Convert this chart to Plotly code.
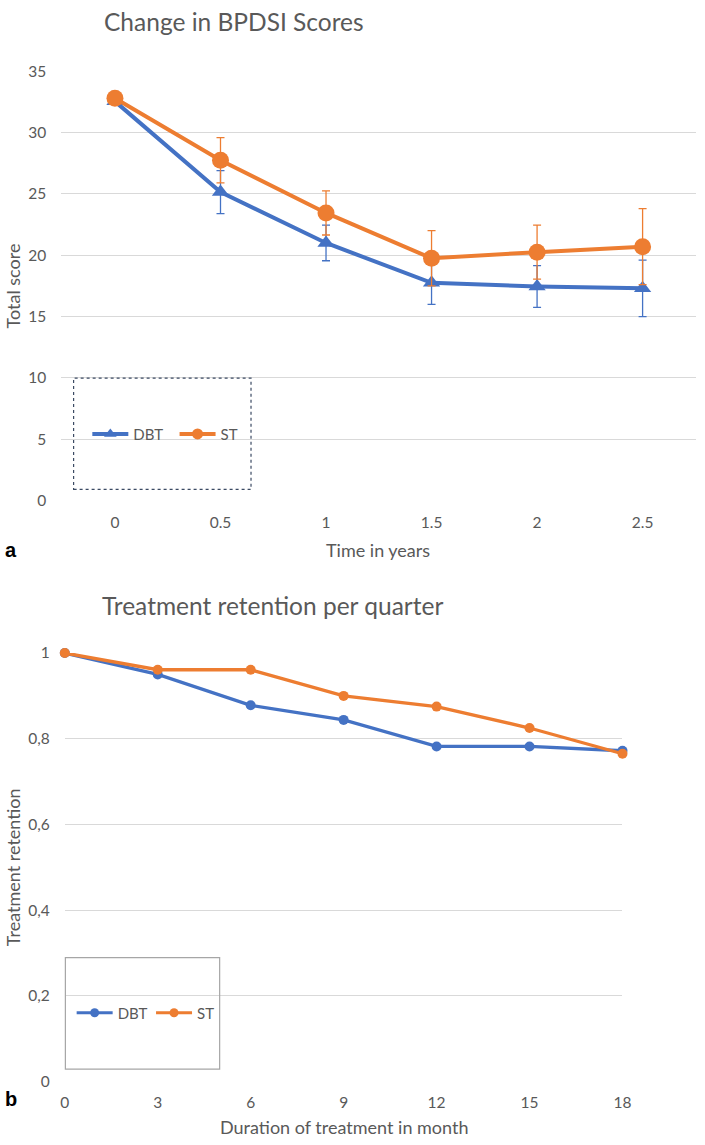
import plotly.graph_objects as go

# ---------------- data ----------------
years = [0, 0.5, 1, 1.5, 2, 2.5]
year_labels = ["0", "0.5", "1", "1.5", "2", "2.5"]
dbt_score = [32.55, 25.15, 21.0, 17.75, 17.45, 17.3]
dbt_err = [0, 1.75, 1.45, 1.75, 1.7, 2.3]
st_score = [32.8, 27.75, 23.45, 19.75, 20.25, 20.7]
st_err = [0, 1.85, 1.8, 2.25, 2.2, 3.1]
score_ticks = [0, 5, 10, 15, 20, 25, 30, 35]
score_labels = ["0", "5", "10", "15", "20", "25", "30", "35"]

months = [0, 3, 6, 9, 12, 15, 18]
month_labels = ["0", "3", "6", "9", "12", "15", "18"]
dbt_ret = [1.0, 0.95, 0.878, 0.844, 0.782, 0.782, 0.772]
st_ret = [1.0, 0.961, 0.961, 0.9, 0.875, 0.825, 0.765]
ret_ticks = [0, 0.2, 0.4, 0.6, 0.8, 1.0]
ret_labels = ["0", "0,2", "0,4", "0,6", "0,8", "1"]

series_names = ["DBT", "ST"]

# ---------------- style ----------------
W, H = 705, 1145
BLUE = "#4472C4"
ORANGE = "#ED7D31"
TXT = "#595959"
GRID = "#D9D9D9"
FONT = "Lato"


def px_x(p):
    return p / W


def px_y(p):
    return 1 - p / H


fig = go.Figure()

# ---- top chart ----
fig.add_trace(go.Scatter(
    x=years, y=dbt_score, name=series_names[0], mode="lines+markers",
    line=dict(color=BLUE, width=4),
    marker=dict(symbol="triangle-up", size=15, color=BLUE),
    error_y=dict(type="data", array=dbt_err, visible=True, color=BLUE, thickness=1.3, width=4),
    xaxis="x", yaxis="y", showlegend=False, cliponaxis=False))
fig.add_trace(go.Scatter(
    x=years, y=st_score, name=series_names[1], mode="lines+markers",
    line=dict(color=ORANGE, width=4),
    marker=dict(symbol="circle", size=17, color=ORANGE),
    error_y=dict(type="data", array=st_err, visible=True, color=ORANGE, thickness=1.3, width=4),
    xaxis="x", yaxis="y", showlegend=False, cliponaxis=False))

# legend-only entries (top)
fig.add_trace(go.Scatter(
    x=[None], y=[None], name=series_names[0], mode="lines+markers",
    line=dict(color=BLUE, width=4), marker=dict(symbol="triangle-up", size=11, color=BLUE),
    xaxis="x", yaxis="y", legend="legend"))
fig.add_trace(go.Scatter(
    x=[None], y=[None], name=series_names[1], mode="lines+markers",
    line=dict(color=ORANGE, width=4), marker=dict(symbol="circle", size=11, color=ORANGE),
    xaxis="x", yaxis="y", legend="legend2"))

# ---- bottom chart ----
fig.add_trace(go.Scatter(
    x=months, y=dbt_ret, name=series_names[0], mode="lines+markers",
    line=dict(color=BLUE, width=3.3), marker=dict(symbol="circle", size=10, color=BLUE),
    xaxis="x2", yaxis="y2", showlegend=False, cliponaxis=False))
fig.add_trace(go.Scatter(
    x=months, y=st_ret, name=series_names[1], mode="lines+markers",
    line=dict(color=ORANGE, width=3.3), marker=dict(symbol="circle", size=10, color=ORANGE),
    xaxis="x2", yaxis="y2", showlegend=False, cliponaxis=False))

fig.add_trace(go.Scatter(
    x=[None], y=[None], name=series_names[0], mode="lines+markers",
    line=dict(color=BLUE, width=3), marker=dict(symbol="circle", size=9, color=BLUE),
    xaxis="x2", yaxis="y2", legend="legend3"))
fig.add_trace(go.Scatter(
    x=[None], y=[None], name=series_names[1], mode="lines+markers",
    line=dict(color=ORANGE, width=3), marker=dict(symbol="circle", size=9, color=ORANGE),
    xaxis="x2", yaxis="y2", legend="legend4"))

tickfont = dict(family=FONT, size=15.5, color=TXT)
legfont = dict(family=FONT, size=15, color=TXT)


def leg(xp, yp):
    return dict(x=px_x(xp), y=px_y(yp), xanchor="left", yanchor="middle",
                bgcolor="rgba(0,0,0,0)", borderwidth=0, font=legfont,
                orientation="h", itemwidth=36)


fig.update_layout(
    width=W, height=H,
    margin=dict(l=0, r=0, t=0, b=0),
    paper_bgcolor="white", plot_bgcolor="white",
    font=dict(family=FONT, color=TXT),
    xaxis=dict(domain=[px_x(57.5), 1.0], range=[-0.254, 2.753],
               tickvals=years, ticktext=year_labels, showgrid=False,
               zeroline=False, showline=False, ticks="", tickfont=tickfont,
               ticklabelstandoff=11, anchor="y"),
    yaxis=dict(domain=[px_y(498.3), px_y(62.3)], range=[0, 35],
               tickvals=score_ticks, ticktext=score_labels, showgrid=True,
               gridcolor=GRID, gridwidth=1.3, zeroline=False, showline=False,
               ticks="", tickfont=tickfont, ticklabelstandoff=14, anchor="x"),
    xaxis2=dict(domain=[px_x(61), px_x(630)], range=[0, 18],
                tickvals=months, ticktext=month_labels, showgrid=False,
                zeroline=False, showline=False, ticks="", tickfont=tickfont,
                ticklabelstandoff=10, anchor="y2"),
    yaxis2=dict(domain=[px_y(1088.7), px_y(653.3)], range=[0, 1],
                tickvals=ret_ticks, ticktext=ret_labels, showgrid=True,
                gridcolor=GRID, gridwidth=1, zeroline=False, showline=False,
                ticks="", tickfont=tickfont, ticklabelstandoff=14, anchor="x2"),
    legend=leg(84, 431),
    legend2=leg(173, 431),
    legend3=leg(68, 1019),
    legend4=leg(149, 1019),
    shapes=[
        dict(type="rect", xref="paper", yref="paper",
             x0=px_x(70), x1=px_x(251), y0=px_y(487), y1=px_y(374),
             line=dict(color="#3B4A63", width=1.2, dash="dot"), fillcolor="rgba(0,0,0,0)"),
        dict(type="rect", xref="paper", yref="paper",
             x0=px_x(61.6), x1=px_x(219), y0=px_y(1076), y1=px_y(962.7),
             line=dict(color="#A6A6A6", width=1.2), fillcolor="rgba(0,0,0,0)"),
    ],
    annotations=[
        dict(text="Change in BPDSI Scores", xref="paper", yref="paper",
             x=px_x(99), y=px_y(12), xanchor="left", yanchor="middle",
             showarrow=False, font=dict(family=FONT, size=24.5, color=TXT)),
        dict(text="Treatment retention per quarter", xref="paper", yref="paper",
             x=px_x(97), y=px_y(605), xanchor="left", yanchor="middle",
             showarrow=False, font=dict(family=FONT, size=24.5, color=TXT)),
        dict(text="Time in years", xref="paper", yref="paper",
             x=px_x(381), y=px_y(549), xanchor="center", yanchor="middle",
             showarrow=False, font=dict(family=FONT, size=18, color=TXT)),
        dict(text="Duration of treatment in month", xref="paper", yref="paper",
             x=px_x(345.5), y=0, xanchor="center", yanchor="bottom", yshift=-3,
             showarrow=False, font=dict(family=FONT, size=18, color=TXT)),
        dict(text="Total score", xref="paper", yref="paper", textangle=-90,
             x=px_x(8), y=px_y(280), xanchor="center", yanchor="middle",
             showarrow=False, font=dict(family=FONT, size=18, color=TXT)),
        dict(text="Treatment retention", xref="paper", yref="paper", textangle=-90,
             x=px_x(8), y=px_y(871), xanchor="center", yanchor="middle",
             showarrow=False, font=dict(family=FONT, size=18, color=TXT)),
        dict(text="<b>a</b>", xref="paper", yref="paper",
             x=0, y=px_y(549), xanchor="left", yanchor="middle", xshift=-2,
             showarrow=False, font=dict(family="Liberation Sans", size=20, color="black")),
        dict(text="<b>b</b>", xref="paper", yref="paper",
             x=0, y=px_y(1106), xanchor="left", yanchor="middle", xshift=-2,
             showarrow=False, font=dict(family="Liberation Sans", size=20, color="black")),
    ],
)

fig.write_html(
    "out.html",
    config={"displayModeBar": False},
    post_script="document.body.style.margin='0px';document.body.style.padding='0px';"
                "document.body.style.overflow='hidden';",
)
